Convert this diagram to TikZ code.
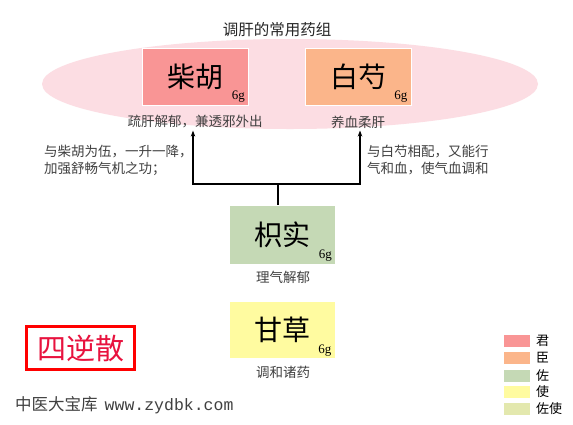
\documentclass[tikz,border=0pt]{standalone}
\usepackage{fontspec}
\newfontfamily\cjk{Noto Sans CJK SC}
\newfontfamily\serifnum{Liberation Serif}
\newfontfamily\monof{Liberation Mono}
\usetikzlibrary{arrows.meta}
\definecolor{jun}{HTML}{F99595}
\definecolor{chen}{HTML}{FBB58A}
\definecolor{zuo}{HTML}{C5D9B5}
\definecolor{shi}{HTML}{FFFBA0}
\definecolor{zuoshi}{HTML}{E3E8AE}
\definecolor{ellpink}{HTML}{FCDDE3}
\definecolor{txtgrey}{HTML}{404040}
\definecolor{crim}{HTML}{E8123E}
\tikzset{
  herb/.style={draw=white, line width=1pt, minimum width=106pt, minimum height=57pt, inner sep=0pt,
    font=\cjk\fontsize{28}{28}\selectfont, text=black},
  gram/.style={font=\serifnum\fontsize{13}{13}\selectfont, inner sep=0pt, anchor=south east},
  role/.style={font=\cjk\fontsize{13.5}{14}\selectfont, text=txtgrey, inner sep=2pt},
  note/.style={font=\cjk\fontsize{13.5}{17}\selectfont, text=txtgrey, align=left, inner sep=0pt, anchor=west},
  conn/.style={line width=1.4pt, black},
  swatch/.style={minimum width=26pt, minimum height=12pt, inner sep=0pt},
  legtext/.style={font=\cjk\fontsize{13}{13}\selectfont, inner sep=0pt, anchor=west}
}
\begin{document}
\begin{tikzpicture}[x=1pt,y=-1pt]
\useasboundingbox (0,0) rectangle (573,424);
\fill[white] (0,0) rectangle (573,424);
\fill[ellpink] (290,84) ellipse [x radius=248pt, y radius=45pt];
\node[font=\cjk\fontsize{15.5}{16}\selectfont, text=black!85, inner sep=0pt] (title) at (277,30) {调肝的常用药组};

% herb boxes
\node[herb, fill=jun] (chaihu) at (195.5,77) {柴胡};
\node[gram] (g1) at ([xshift=-4pt,yshift=3pt]chaihu.south east) {6g};
\node[herb, fill=chen] (baishao) at (358,77) {白芍};
\node[gram] (g2) at ([xshift=-4pt,yshift=3pt]baishao.south east) {6g};
\node[herb, fill=zuo, minimum height=59pt] (zhishi) at (282.5,234.5) {枳实};
\node[gram] (g3) at ([xshift=-4pt,yshift=3pt]zhishi.south east) {6g};
\node[herb, fill=shi] (gancao) at (282,330) {甘草};
\node[gram] (g4) at ([xshift=-4pt,yshift=3pt]gancao.south east) {6g};

% role labels
\node[role] (r1) at (195,122) {疏肝解郁，兼透邪外出};
\node[role] (r2) at (358,122) {养血柔肝};
\node[role] (r3) at (283,277) {理气解郁};
\node[role] (r4) at (283,372) {调和诸药};

% notes
\node[note] (n1) at (44,160.5) {与柴胡为伍，一升一降，\\加强舒畅气机之功；};
\node[note] (n2) at (367,160.5) {与白芍相配，又能行\\气和血，使气血调和};

% connectors
\coordinate (j) at (278,184);
\draw[conn] (zhishi.north -| j) -- (j);
\draw[conn, -{Stealth[length=6pt,width=4.5pt]}] (j) -| ([xshift=-2pt]r1.south);
\draw[conn, -{Stealth[length=6pt,width=4.5pt]}] (j) -| ([xshift=2pt]r2.south);

% formula name
\node[draw=red, line width=3pt, fill=white, minimum width=108pt, minimum height=43pt, inner sep=0pt,
  font=\cjk\fontsize{29}{29}\selectfont, text=crim] (sini) at (80.5,348) {四逆散};

% footer
\node[anchor=west, inner sep=0pt, text=txtgrey] (foot) at (15,405)
  {\cjk\fontsize{16.5}{17}\selectfont 中医大宝库\hspace{7pt}\monof\fontsize{16.5}{17}\selectfont www.zydbk.com};

% legend
\node[swatch, fill=jun] (s1) at (517,341) {};
\node[swatch, fill=chen] (s2) at (517,358) {};
\node[swatch, fill=zuo] (s3) at (517,375.5) {};
\node[swatch, fill=shi] (s4) at (517,392) {};
\node[swatch, fill=zuoshi] (s5) at (517,409) {};
\node[legtext] (t1) at (536,341) {君};
\node[legtext] (t2) at (536,358) {臣};
\node[legtext] (t3) at (536,375.5) {佐};
\node[legtext] (t4) at (536,392) {使};
\node[legtext] (t5) at (536,409) {佐使};
\end{tikzpicture}
\end{document}
